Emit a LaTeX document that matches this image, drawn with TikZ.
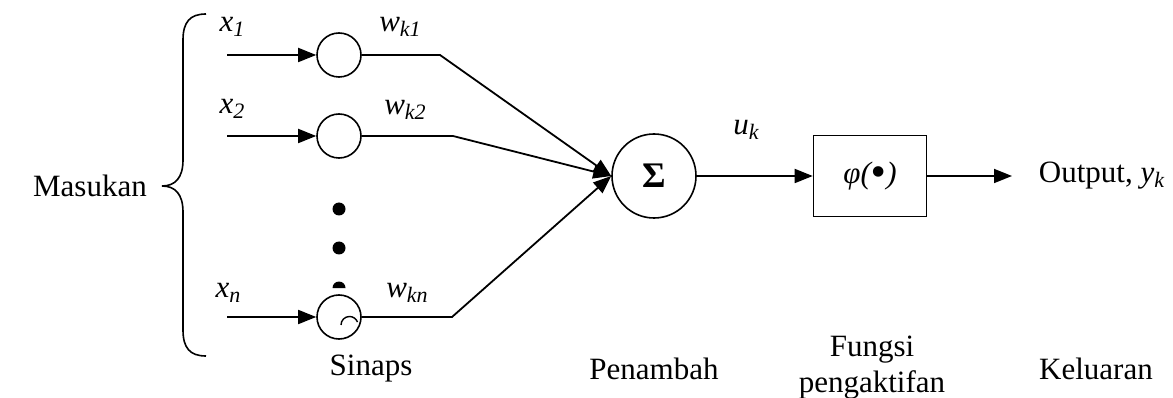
\documentclass[tikz,border=0pt]{standalone}
\usepackage{fontspec}
\setmainfont{Liberation Serif}
\usetikzlibrary{arrows.meta}
\newcommand\subx[1]{\raisebox{-0.14em}{\fontsize{22}{24}\selectfont\itshape #1}}
\begin{document}
\begin{tikzpicture}[x=1pt,y=-1pt,line width=1.8pt,
  tip/.style={-{Triangle[length=18pt,width=14pt]}},
  syn/.style={draw,circle,minimum size=44pt,inner sep=0pt,line width=1.6pt},
  txt/.style={font=\fontsize{31}{36}\selectfont,inner sep=0pt,align=center}]
\useasboundingbox (0,0) rectangle (1173,398);
% brace
\draw[line width=1.6pt] (206,14) .. controls (190,14) and (183,22) .. (183,40)
  -- (183,160) .. controls (183,178) and (175,186) .. (162,186)
  .. controls (175,186) and (183,194) .. (183,212)
  -- (183,330) .. controls (183,348) and (190,356) .. (206,356);
\node[txt] (mas) at (90,186) {Masukan};
% inputs
\coordinate (i1) at (227,55);
\coordinate (i2) at (227,136);
\coordinate (in) at (227,317);
\node[syn] (s1) at (339,55) {};
\node[syn] (s2) at (339,136) {};
\node[syn] (sn) at (339,317) {};
\draw[tip] (i1) -- (s1);
\draw[tip] (i2) -- (s2);
\draw[tip] (in) -- (sn);
\node[txt] (lx1) at (232,27) {\textit{x}\subx{1}};
\node[txt] (lx2) at (232,109) {\textit{x}\subx{2}};
\node[txt] (lxn) at (228,293) {\textit{x}\subx{n}};
% dots
\fill (339,209) circle (6.5);
\fill (339,248) circle (6.5);
\fill (332.5,288) arc[start angle=180,end angle=360,radius=6.5] -- cycle;
\draw[line width=1.4pt] (341,325) arc[start angle=180,end angle=340,radius=8.5];
% weights
\node[txt] (lw1) at (400,27) {\textit{w}\subx{k1}};
\node[txt] (lw2) at (405,110) {\textit{w}\subx{k2}};
\node[txt] (lwn) at (407,293) {\textit{w}\subx{kn}};
% summation
\node[draw,circle,minimum size=84pt,inner sep=0pt,line width=1.6pt,txt] (sum) at (654,176) {\fontsize{36}{36}\selectfont\bfseries Σ};
\coordinate (b1) at (440,55);
\coordinate (b2) at (453,136);
\coordinate (bn) at (452,317);
\draw[tip] (s1) -- (b1) -- (sum.west);
\draw[tip] (s2) -- (b2) -- (sum.west);
\draw[tip] (sn) -- (bn) -- (sum.west);
% activation
\node[draw,minimum width=113pt,minimum height=81pt,inner sep=0pt,line width=1.6pt,txt] (phi) at (870,176) {\textit{φ(\raisebox{-3pt}{\fontsize{44}{44}\selectfont •})}};
\draw[tip] (sum) -- (phi);
\node[txt] (luk) at (746,130) {\textit{u}\subx{k}};
\node[txt,anchor=west] (out) at (1038,176) {Output, \textit{y}\subx{k}};
\draw[tip] (phi) -- (1012,176) coordinate (oe);
% bottom labels
\node[txt] (sin) at (371,369) {Sinaps};
\node[txt] (pen) at (654,369) {Penambah};
\node[txt] (fun) at (872,368) {Fungsi\\pengaktifan};
\node[txt] (kel) at (1096,369) {Keluaran};
\end{tikzpicture}
\end{document}
